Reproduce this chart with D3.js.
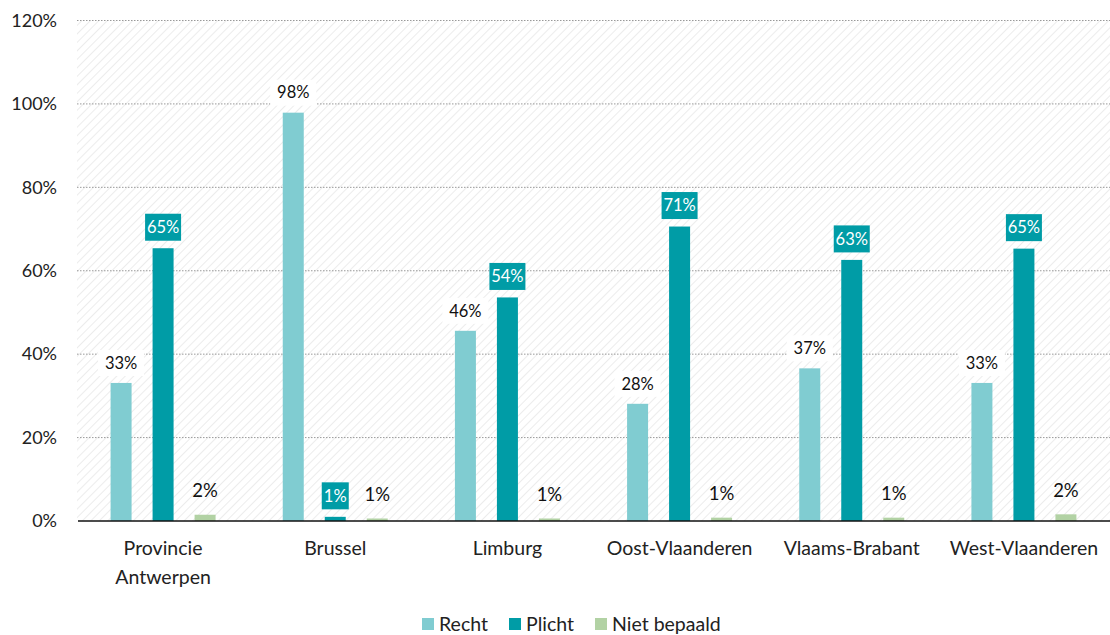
<!DOCTYPE html>
<html><head><meta charset="utf-8">
<script src="https://cdn.jsdelivr.net/npm/d3@7"></script>
<style>body{margin:0;background:#fff}svg{display:block;font-family:Lato,"Open Sans",sans-serif}</style>
</head><body><svg id="c" width="1110" height="635"></svg>
<script>
const categories = ["Provincie Antwerpen","Brussel","Limburg","Oost-Vlaanderen","Vlaams-Brabant","West-Vlaanderen"];
const seriesNames = ["Recht","Plicht","Niet bepaald"];
const recht = [33.1, 97.9, 45.6, 28.1, 36.6, 33.1];
const plicht = [65.4, 1.0, 53.6, 70.6, 62.6, 65.3];
const nietBepaald = [1.5, 0.6, 0.6, 0.8, 0.8, 1.6];
const yTicks = [0, 20, 40, 60, 80, 100, 120];
const colors = ["#80ccd1", "#009ca6", "#b2d2a4"];

const svg = d3.select("#c");
const m = {l: 77, r: 0, t: 20.5, b: 114};
const W = 1110, H = 635;
const x = d3.scaleBand().domain(categories).range([m.l, W - m.r]);
const y = d3.scaleLinear().domain([0, 120]).range([H - m.b, m.t]);
const series = [recht, plicht, nietBepaald];
const offsets = [-42, 0, 42];
const bw = 21;

// hatch pattern
const defs = svg.append("defs");
const pat = defs.append("pattern").attr("id","hatch").attr("patternUnits","userSpaceOnUse")
  .attr("width",6).attr("height",6).attr("patternTransform","rotate(45)");
pat.append("rect").attr("width",6).attr("height",6).attr("fill","#fff");
pat.append("line").attr("x1",0).attr("y1",0).attr("x2",0).attr("y2",6).attr("stroke","#ececec").attr("stroke-width",2);
svg.append("rect").attr("x",m.l).attr("y",y(120)).attr("width",W-m.r-m.l).attr("height",y(0)-y(120)).attr("fill","url(#hatch)");

// gridlines
svg.append("g").selectAll("line").data(yTicks.filter(d=>d>0)).join("line")
  .attr("x1",m.l).attr("x2",W-m.r).attr("y1",d=>y(d)).attr("y2",d=>y(d))
  .attr("stroke","#999").attr("stroke-width",1).attr("stroke-dasharray","1.5,1.5");

// y axis labels
const yAxis = d3.axisLeft(y).tickValues(yTicks).tickFormat(d=>d+"%").tickSize(0).tickPadding(20);
const ya = svg.append("g").attr("transform",`translate(${m.l},0)`).call(yAxis);
ya.select(".domain").remove();
ya.selectAll("text").attr("font-size",18).attr("fill","#222").attr("font-family","Lato, sans-serif");

// bars
series.forEach((s,i)=>{
  svg.append("g").selectAll("rect").data(s).join("rect")
    .attr("x",(d,j)=>x(categories[j])+x.bandwidth()/2+offsets[i]-bw/2)
    .attr("y",d=>y(d)).attr("width",bw).attr("height",d=>y(0)-y(d))
    .attr("fill",colors[i]);
});

// baseline
svg.append("line").attr("x1",m.l+1).attr("x2",W-m.r).attr("y1",y(0)).attr("y2",y(0)).attr("stroke","#111").attr("stroke-width",1.5);

const fmt = d => Math.round(d) + "%";
// labels
series.forEach((s,i)=>{
  const g = svg.append("g");
  s.forEach((d,j)=>{
    const cx = x(categories[j])+x.bandwidth()/2+offsets[i];
    const t = fmt(d);
    if(i===0){
      const cy = y(d)-20;
      g.append("rect").attr("x",cx-23).attr("y",cy-13).attr("width",46).attr("height",26).attr("fill","#fff");
      g.append("text").attr("x",cx).attr("y",cy).attr("dy","0.35em").attr("text-anchor","middle")
        .attr("font-size",16.5).attr("fill","#111").text(t);
    } else if(i===1){
      const cy = y(d)-21;
      const w = t.length>2 ? 36 : 27;
      g.append("rect").attr("x",cx-w/2).attr("y",cy-13.5).attr("width",w).attr("height",27).attr("fill",colors[1]);
      g.append("text").attr("x",cx).attr("y",cy).attr("dy","0.35em").attr("text-anchor","middle")
        .attr("font-size",16.5).attr("fill","#fff").text(t);
    } else {
      const cy = y(d)-24;
      g.append("text").attr("x",cx).attr("y",cy).attr("dy","0.35em").attr("text-anchor","middle")
        .attr("font-size",18.5).attr("fill","#111").text(t);
    }
  });
});

// x labels
const xl = svg.append("g");
categories.forEach(c=>{
  const cx = x(c)+x.bandwidth()/2;
  const parts = c==="Provincie Antwerpen" ? ["Provincie","Antwerpen"] : [c];
  parts.forEach((p,k)=>{
    xl.append("text").attr("x",cx).attr("y",555+k*29).attr("text-anchor","middle")
      .attr("font-size",19.5).attr("fill","#222").text(p);
  });
});

// legend
const legX = [422, 509, 595];
const lg = svg.append("g");
seriesNames.forEach((n,i)=>{
  lg.append("rect").attr("x",legX[i]).attr("y",618).attr("width",12).attr("height",12).attr("fill",colors[i]);
  lg.append("text").attr("x",legX[i]+17).attr("y",631).attr("font-size",19.5).attr("fill","#222").text(n);
});
</script></body></html>
